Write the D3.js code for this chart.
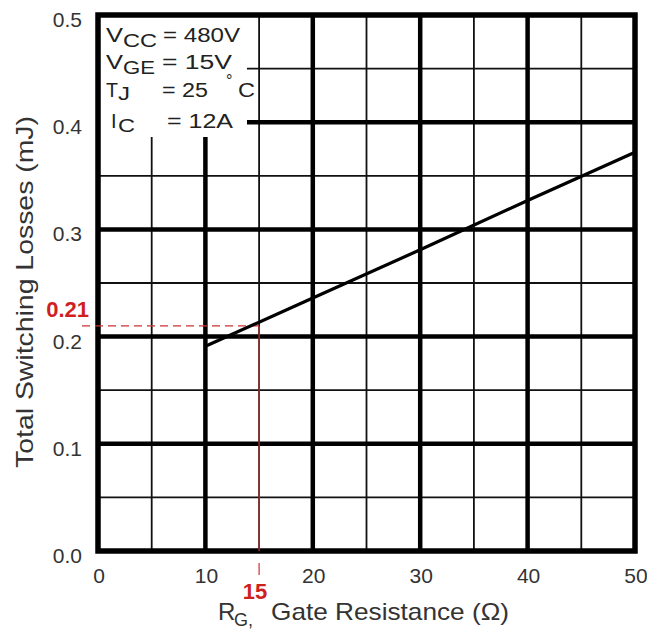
<!DOCTYPE html>
<html>
<head>
<meta charset="utf-8">
<script src="https://cdn.jsdelivr.net/npm/d3@7"></script>
<style>
  body { margin: 0; background: #fff; }
  svg { display: block; font-family: "Liberation Sans", Arial, sans-serif; }
</style>
</head>
<body>
<svg id="chart"></svg>
<script>
// gate resistance (ohm) and total switching losses (mJ)
var rg = [10, 20, 30, 40, 50];
var losses = [0.191, 0.236, 0.281, 0.327, 0.372];

var xTicks = [0, 10, 20, 30, 40, 50];
var yTicks = [0.0, 0.1, 0.2, 0.3, 0.4, 0.5];
var xMinor = [5, 15, 25, 35, 45];
var yMinor = [0.05, 0.15, 0.25, 0.35, 0.45];

// red marker
var markRg = 15;
var markLoss = 0.21;

var W = 647, H = 630;
var margins = { left: 98, right: 12, top: 15, bottom: 79 };

var svg = d3.select("#chart")
            .attr("width", W)
            .attr("height", H);

var x = d3.scaleLinear().domain([0, 50]).range([margins.left, W - margins.right]);
var y = d3.scaleLinear().domain([0, 0.5]).range([H - margins.bottom, margins.top]);

var grid = svg.append("g");

// minor grid
grid.selectAll("line.vminor")
    .data(xMinor).enter().append("line")
    .attr("x1", function(d) { return x(d); })
    .attr("x2", function(d) { return x(d); })
    .attr("y1", y(0)).attr("y2", y(0.5))
    .attr("stroke", "#111").attr("stroke-width", 1.8);

grid.selectAll("line.hminor")
    .data(yMinor).enter().append("line")
    .attr("y1", function(d) { return y(d); })
    .attr("y2", function(d) { return y(d); })
    .attr("x1", x(0)).attr("x2", x(50))
    .attr("stroke", "#111").attr("stroke-width", 1.8);

// major grid
grid.selectAll("line.vmajor")
    .data(xTicks.slice(1, -1)).enter().append("line")
    .attr("x1", function(d) { return x(d); })
    .attr("x2", function(d) { return x(d); })
    .attr("y1", y(0)).attr("y2", y(0.5))
    .attr("stroke", "#000").attr("stroke-width", 4.5);

grid.selectAll("line.hmajor")
    .data(yTicks.slice(1, -1)).enter().append("line")
    .attr("y1", function(d) { return y(d); })
    .attr("y2", function(d) { return y(d); })
    .attr("x1", x(0)).attr("x2", x(50))
    .attr("stroke", "#000").attr("stroke-width", 4.5);

// white box behind the conditions text
svg.append("rect")
   .attr("x", x(0)).attr("y", y(0.5))
   .attr("width", 149).attr("height", 122)
   .attr("fill", "#fff");

// frame
svg.append("rect")
   .attr("x", x(0)).attr("y", y(0.5))
   .attr("width", x(50) - x(0)).attr("height", y(0) - y(0.5))
   .attr("fill", "none").attr("stroke", "#000").attr("stroke-width", 5.5);

// red annotation
var red = "#d01f1f";
svg.append("line")
   .attr("x1", x(0) - 16).attr("x2", x(markRg))
   .attr("y1", y(markLoss)).attr("y2", y(markLoss))
   .attr("stroke", "#c33").attr("stroke-width", 1.3)
   .attr("stroke-dasharray", "8,5");
svg.append("line")
   .attr("x1", x(markRg)).attr("x2", x(markRg))
   .attr("y1", y(markLoss)).attr("y2", y(0))
   .attr("stroke", "#c33").attr("stroke-width", 1.2);
svg.append("line")
   .attr("x1", x(markRg)).attr("x2", x(markRg))
   .attr("y1", y(0) + 12).attr("y2", y(0) + 24)
   .attr("stroke", "#c33").attr("stroke-width", 1.2);

// data line
var line = d3.line()
             .x(function(d, i) { return x(rg[i]); })
             .y(function(d) { return y(d); });
svg.append("path")
   .datum(losses)
   .attr("d", line)
   .attr("fill", "none")
   .attr("stroke", "#000")
   .attr("stroke-width", 3.2);

// tick labels
svg.selectAll("text.xt")
   .data(xTicks).enter().append("text")
   .attr("x", function(d) { return x(d) + 1; })
   .attr("y", y(0) + 32)
   .attr("text-anchor", "middle")
   .attr("font-size", 21)
   .attr("fill", "#333")
   .text(function(d) { return d; });

svg.selectAll("text.yt")
   .data(yTicks).enter().append("text")
   .attr("x", 82)
   .attr("y", function(d) { return y(d) + 12; })
   .attr("text-anchor", "end")
   .attr("font-size", 21)
   .attr("fill", "#333")
   .text(function(d) { return d3.format(".1f")(d); });

svg.append("text")
   .attr("x", 89).attr("y", 317)
   .attr("text-anchor", "end")
   .attr("font-size", 22).attr("font-weight", "bold")
   .attr("fill", red)
   .text("0.21");

svg.append("text")
   .attr("x", x(markRg) - 4).attr("y", 599)
   .attr("text-anchor", "middle")
   .attr("font-size", 22).attr("font-weight", "bold")
   .attr("fill", red)
   .text("15");

// axis titles
var xt = svg.append("g").attr("fill", "#333");
xt.append("text").attr("x", 218).attr("y", 620).attr("font-size", 24).text("R");
xt.append("text").attr("x", 234).attr("y", 626).attr("font-size", 18).text("G,");
xt.append("text").attr("x", 271).attr("y", 620).attr("font-size", 24)
  .attr("textLength", 238).attr("lengthAdjust", "spacingAndGlyphs")
  .text("Gate Resistance (\u03A9)");

svg.append("text")
   .attr("transform", "translate(33," + 292 + ") rotate(-90)")
   .attr("text-anchor", "middle")
   .attr("font-size", 24)
   .attr("fill", "#333")
   .attr("textLength", 352).attr("lengthAdjust", "spacingAndGlyphs")
   .text("Total Switching Losses (mJ)");

// test conditions
var cond = svg.append("g").attr("fill", "#222").attr("font-size", 20);
function put(txt, px, py, len, size) {
  var t = cond.append("text").attr("x", px).attr("y", py).text(txt);
  if (len) t.attr("textLength", len).attr("lengthAdjust", "spacingAndGlyphs");
  if (size) t.attr("font-size", size);
  return t;
}
put("V", 106, 42, 17);
put("CC", 123, 47, 34, 18);
put("= 480V", 163, 42, 77);
put("V", 106, 69, 17);
put("GE", 123, 74, 32, 18);
put("= 15V", 162, 69, 70);
put("T", 106, 97, 12);
put("J", 118, 100, 12, 18);
put("= 25", 162, 97, 46);
put("\u00B0", 226, 86, null, 16);
put("C", 238, 97, 17);
put("I", 111, 128);
put("C", 118, 132, 17, 18);
put("= 12A", 167, 128, 66);
</script>
</body>
</html>
